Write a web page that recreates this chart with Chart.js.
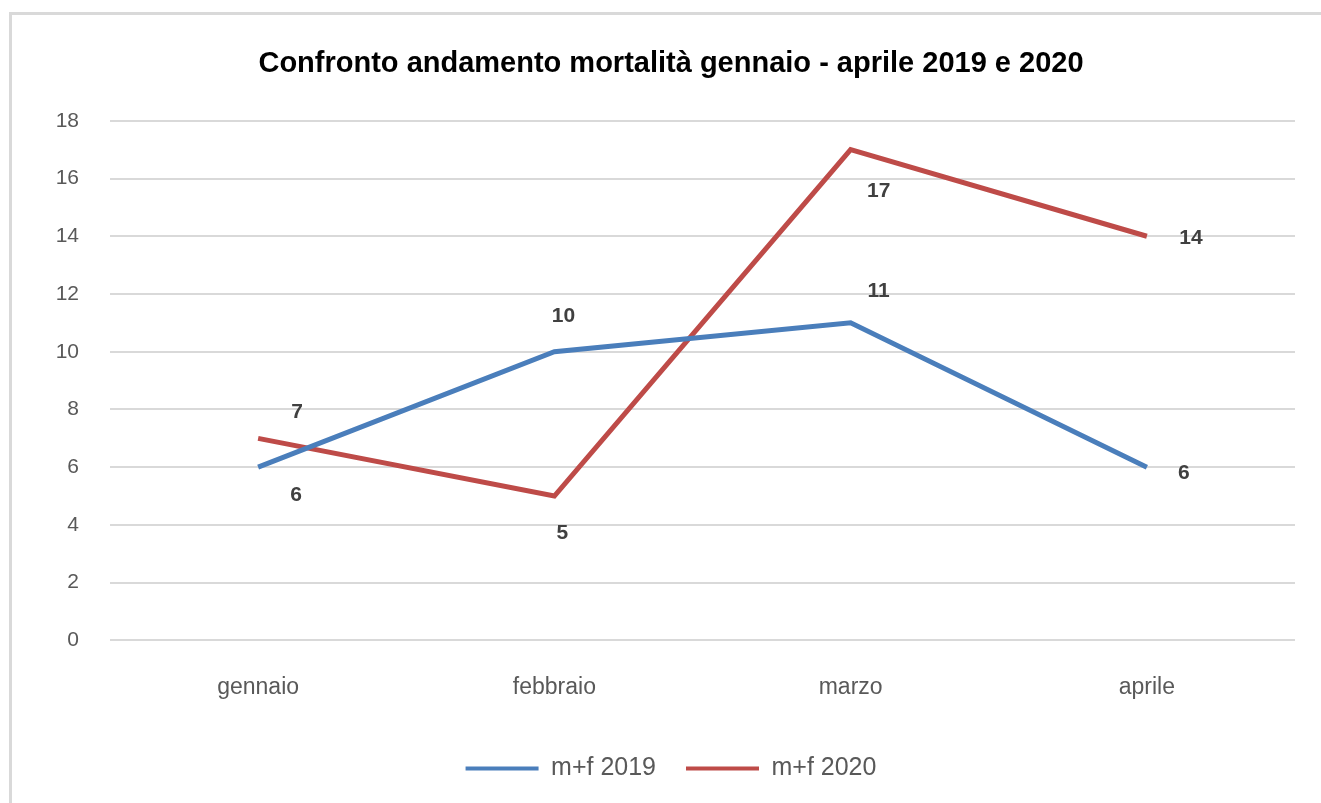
<!DOCTYPE html>
<html>
<head>
<meta charset="utf-8">
<script src="https://cdn.jsdelivr.net/npm/chart.js@4"></script>
<style>
  html, body { margin: 0; padding: 0; background: #fff; overflow: hidden; }
  #frame { position: absolute; left: 9px; top: 12px; width: 1330px; height: 820px; border: 3px solid #d9d9d9; }
  #c { position: absolute; left: 0; top: 0; }
</style>
</head>
<body>
<div id="frame"></div>
<canvas id="c" width="1321" height="803"></canvas>
<script>
var mesi = ['gennaio', 'febbraio', 'marzo', 'aprile'];
var morti2019 = [6, 10, 11, 6];
var morti2020 = [7, 5, 17, 14];

// label offsets from the point (dx, dy), per dataset
var offsets = [
  [[38, 28], [9, -36], [28, -32], [37, 6]],
  [[39, -26], [8, 37], [28, 42], [44, 2]],
];

var fam = '"Liberation Sans", Arial, sans-serif';

var etichette = {
  id: 'etichette',
  afterDatasetsDraw: function(chart) {
    var ctx = chart.ctx;
    ctx.save();
    ctx.font = 'bold 21px ' + fam;
    ctx.fillStyle = '#404040';
    ctx.textAlign = 'center';
    ctx.textBaseline = 'middle';
    chart.data.datasets.forEach(function(ds, i) {
      chart.getDatasetMeta(i).data.forEach(function(pt, j) {
        ctx.fillText(ds.data[j], pt.x + offsets[i][j][0], pt.y + offsets[i][j][1]);
      });
    });
    ctx.restore();
  }
};

var ctx = document.getElementById('c').getContext('2d');
var myChart = new Chart(ctx, {
  type: 'line',
  data: {
    labels: mesi,
    datasets: [{
      label: 'm+f 2019',
      data: morti2019,
      borderColor: '#4a7ebb',
      backgroundColor: '#4a7ebb',
      borderWidth: 5,
      pointRadius: 0,
    }, {
      label: 'm+f 2020',
      data: morti2020,
      borderColor: '#be4b48',
      backgroundColor: '#be4b48',
      borderWidth: 5,
      pointRadius: 0,
    }],
  },
  options: {
    responsive: false,
    animation: false,
    layout: { padding: { top: 30, left: 47, right: 26, bottom: 12 } },
    plugins: {
      title: {
        display: true,
        text: 'Confronto andamento mortalità gennaio - aprile 2019 e 2020',
        color: '#000',
        font: { family: fam, size: 29, weight: 'bold' },
        padding: { top: 17, bottom: 39 },
      },
      legend: {
        position: 'bottom',
        labels: {
          color: '#595959',
          font: { family: fam, size: 25 },
          boxWidth: 73,
          boxHeight: 4,
          padding: 30,
          generateLabels: function(chart) {
            var items = Chart.defaults.plugins.legend.labels.generateLabels(chart);
            items.forEach(function(it) { it.lineWidth = 0; });
            return items;
          },
        },
      },
      tooltip: { enabled: false },
    },
    scales: {
      x: {
        offset: true,
        grid: { display: false },
        border: { display: false },
        ticks: {
          color: '#595959',
          padding: 25,
          font: { family: fam, size: 23 },
        },
      },
      y: {
        min: 0,
        max: 18,
        afterFit: function(scale) { scale.width = 63; },
        grid: { color: '#d9d9d9', lineWidth: 2, drawTicks: false },
        border: { display: false },
        ticks: {
          stepSize: 2,
          color: '#595959',
          padding: 31,
          font: { family: fam, size: 21 },
        },
      },
    },
  },
  plugins: [etichette],
});
</script>
</body>
</html>
